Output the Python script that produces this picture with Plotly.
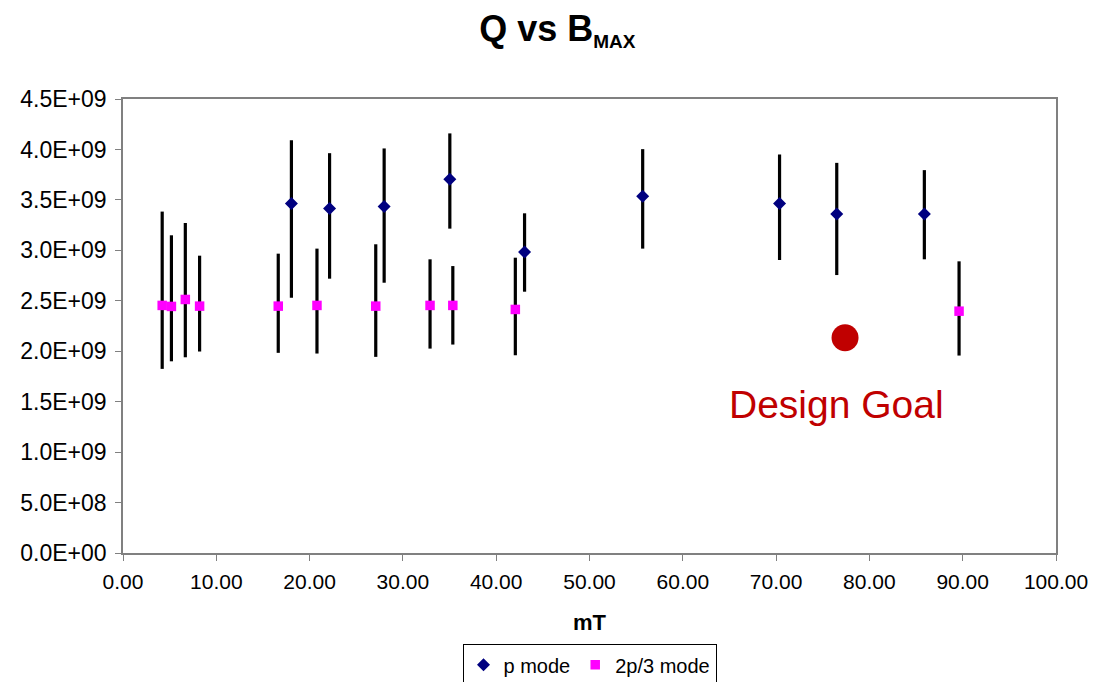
import plotly.graph_objects as go

# p mode (blue diamonds)
p_x = [18.05, 22.14, 27.99, 35.03, 43.04, 55.70, 70.37, 76.50, 85.89]
p_q = [3.464e9, 3.414e9, 3.434e9, 3.705e9, 2.983e9, 3.536e9, 3.464e9, 3.361e9, 3.361e9]
p_hi = [4.09e9, 3.963e9, 4.010e9, 4.159e9, 3.367e9, 4.003e9, 3.950e9, 3.867e9, 3.795e9]
p_lo = [2.530e9, 2.719e9, 2.679e9, 3.215e9, 2.590e9, 3.017e9, 2.904e9, 2.755e9, 2.911e9]

# 2p/3 mode (magenta squares)
m_x = [4.20, 5.19, 6.68, 8.21, 16.64, 20.79, 27.09, 32.91, 35.35, 42.05, 89.61]
m_q = [2.454e9, 2.444e9, 2.513e9, 2.447e9, 2.447e9, 2.454e9, 2.447e9, 2.454e9, 2.454e9, 2.414e9, 2.397e9]
m_hi = [3.384e9, 3.149e9, 3.271e9, 2.947e9, 2.967e9, 3.017e9, 3.060e9, 2.911e9, 2.844e9, 2.927e9, 2.891e9]
m_lo = [1.825e9, 1.900e9, 1.940e9, 1.997e9, 1.984e9, 1.977e9, 1.944e9, 2.026e9, 2.066e9, 1.960e9, 1.957e9]

# design goal
goal_x = [77.39]
goal_q = [2.133e9]

y_tickvals = [0, 0.5e9, 1.0e9, 1.5e9, 2.0e9, 2.5e9, 3.0e9, 3.5e9, 4.0e9, 4.5e9]
y_ticktext = ["0.0E+00", "5.0E+08", "1.0E+09", "1.5E+09", "2.0E+09",
              "2.5E+09", "3.0E+09", "3.5E+09", "4.0E+09", "4.5E+09"]
x_tickvals = [0, 10, 20, 30, 40, 50, 60, 70, 80, 90, 100]

FONT = "Liberation Sans, Arial, sans-serif"

fig = go.Figure()

fig.add_trace(go.Scatter(
    x=p_x, y=p_q, mode="markers", name="p mode",
    marker=dict(symbol="diamond", size=10, color="#000080"),
    error_y=dict(type="data", symmetric=False,
                 array=[h - v for h, v in zip(p_hi, p_q)],
                 arrayminus=[v - l for v, l in zip(p_q, p_lo)],
                 color="black", thickness=3.2, width=0),
))
fig.add_trace(go.Scatter(
    x=m_x, y=m_q, mode="markers", name="2p/3 mode",
    marker=dict(symbol="square", size=9.5, color="#FF00FF"),
    error_y=dict(type="data", symmetric=False,
                 array=[h - v for h, v in zip(m_hi, m_q)],
                 arrayminus=[v - l for v, l in zip(m_q, m_lo)],
                 color="black", thickness=3.2, width=0),
))
fig.add_trace(go.Scatter(
    x=goal_x, y=goal_q, mode="markers", showlegend=False,
    marker=dict(symbol="circle", size=27, color="#C00000"),
))

fig.add_annotation(x=goal_x[0], y=goal_q[0], xref="x", yref="y",
                   text="Design Goal", showarrow=False,
                   yshift=-67, xshift=-9,
                   font=dict(family=FONT, size=39, color="#C00000"))

# page body has an 8px margin, so the figure is sized to fit the window
fig.update_layout(
    width=1092, height=674,
    paper_bgcolor="white", plot_bgcolor="white",
    margin=dict(l=112.5, r=36, t=91, b=128.5),
    font=dict(family=FONT, color="black"),
    title=dict(text='<b>Q vs B<sub><span style="font-size:19px">MAX</span></sub></b>',
               x=0.503, xanchor="center", xref="container",
               y=0.97, yanchor="middle", yref="container",
               font=dict(family=FONT, size=36, color="black")),
    xaxis=dict(range=[0, 100], tickvals=x_tickvals,
               tickformat=".2f", showgrid=False, zeroline=False,
               showline=True, linecolor="#808080", linewidth=1.5, mirror=True,
               ticks="outside", ticklen=6, tickcolor="#808080",
               ticklabelstandoff=3,
               tickfont=dict(size=21),
               title=dict(text="<b>mT</b>", font=dict(size=22), standoff=23)),
    yaxis=dict(range=[0, 4.5e9], tickvals=y_tickvals, ticktext=y_ticktext,
               showgrid=False, zeroline=False,
               showline=True, linecolor="#808080", linewidth=1.5, mirror=True,
               ticks="outside", ticklen=6, tickcolor="#808080",
               ticklabelstandoff=4,
               tickfont=dict(size=23)),
    legend=dict(orientation="h", x=0.5, xanchor="center", xref="paper",
                y=0.056, yanchor="top", yref="container",
                bordercolor="black", borderwidth=1,
                font=dict(size=20), itemwidth=30, tracegroupgap=0),
)

fig.write_html("out.html")
